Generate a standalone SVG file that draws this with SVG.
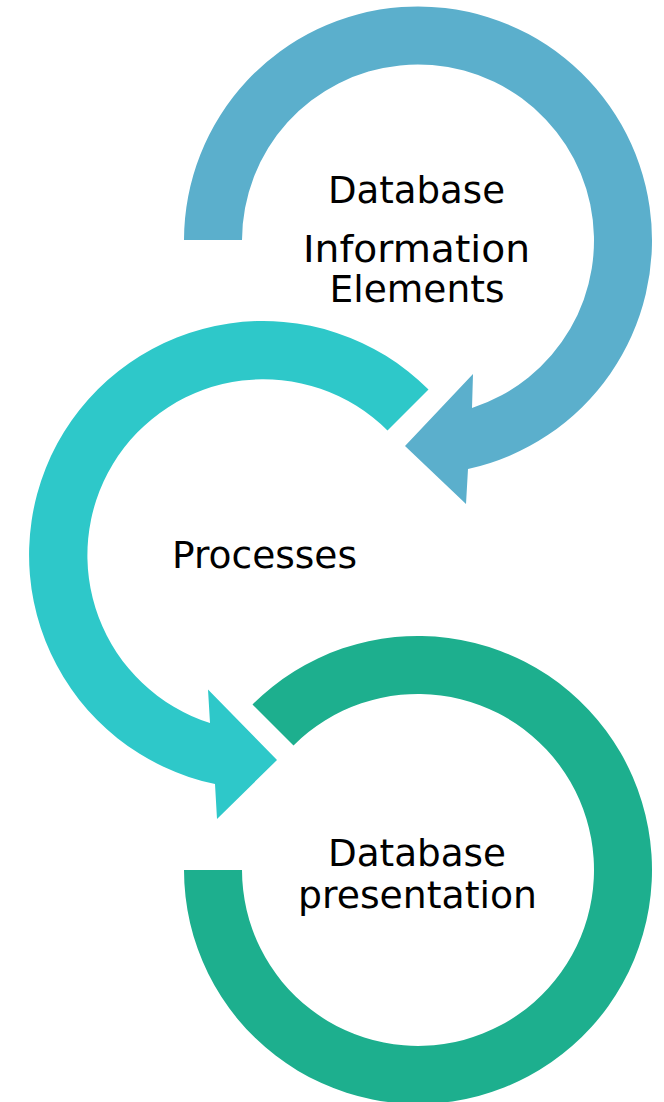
<svg xmlns="http://www.w3.org/2000/svg" width="664" height="1102" viewBox="0 0 664 1102">
  <style>
    .lbl { font-family: "DejaVu Sans", Verdana, sans-serif; font-size: 37.5px; fill: #000; text-anchor: middle; }
    .blue { fill: #5BAFCC; }
    .cyan { fill: #2EC8C9; }
    .green { fill: #1DAF8E; }
  </style>
  <rect width="664" height="1102" fill="#ffffff"/>
  <g id="connectors">
    <path class="blue" d="M184 240 A234 234 0 1 1 468 469 L466 504 L405 446 L473 374 L472 408 A176 176 0 1 0 242 240 Z"/>
    <path class="cyan" d="M428.5 389.5 A234 234 0 1 0 215 784 L217 819 L277 760 L208 689.5 L210 723 A176 176 0 1 1 387.5 430.5 Z"/>
    <path class="green" d="M252.5 704.5 A234 234 0 1 1 184 870 L242 870 A176 176 0 1 0 293.5 745.5 Z"/>
  </g>
  <g id="node-info">
    <text class="lbl" x="416.5" y="203" textLength="177" lengthAdjust="spacingAndGlyphs">Database</text>
    <text class="lbl" x="416.5" y="262" textLength="227" lengthAdjust="spacingAndGlyphs">Information</text>
    <text class="lbl" x="417" y="302" textLength="175" lengthAdjust="spacingAndGlyphs">Elements</text>
  </g>
  <g id="node-processes">
    <text class="lbl" x="264.5" y="568" textLength="185" lengthAdjust="spacingAndGlyphs">Processes</text>
  </g>
  <g id="node-presentation">
    <text class="lbl" x="417" y="866" textLength="178" lengthAdjust="spacingAndGlyphs">Database</text>
    <text class="lbl" x="417.5" y="908" textLength="239" lengthAdjust="spacingAndGlyphs">presentation</text>
  </g>
</svg>
